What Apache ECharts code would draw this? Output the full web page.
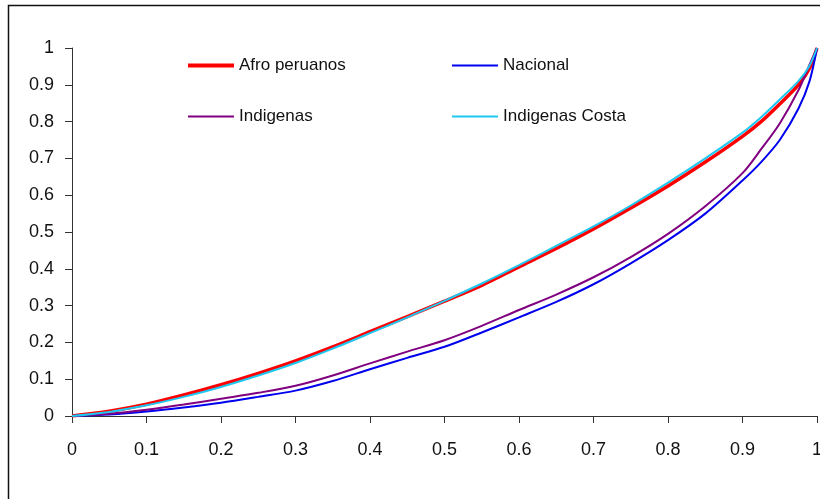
<!DOCTYPE html>
<html>
<head>
<meta charset="utf-8">
<script src="https://cdn.jsdelivr.net/npm/echarts@6/dist/echarts.min.js"></script>
<style>
html,body{margin:0;padding:0;background:#fff;}
#chart{width:820px;height:499px;}
</style>
</head>
<body>
<div id="chart"></div>
<script>
// Cumulative share of population (x)
const popShare = [0, 0.05, 0.1, 0.15, 0.2, 0.25, 0.3, 0.35, 0.4, 0.45, 0.5, 0.55, 0.6, 0.65, 0.7, 0.75, 0.8, 0.85, 0.9, 0.925, 0.95, 0.975, 0.99, 1];
// Cumulative share of income (y) per group
const afroPeruanos   = [0, 0.013, 0.032, 0.057, 0.085, 0.116, 0.150, 0.188, 0.229, 0.270, 0.312, 0.355, 0.405, 0.455, 0.508, 0.565, 0.625, 0.690, 0.760, 0.800, 0.848, 0.900, 0.945, 1];
const nacional       = [0, 0.004, 0.012, 0.023, 0.036, 0.052, 0.069, 0.095, 0.127, 0.158, 0.188, 0.227, 0.268, 0.310, 0.358, 0.415, 0.478, 0.550, 0.640, 0.690, 0.750, 0.835, 0.910, 1];
const indigenas      = [0, 0.006, 0.017, 0.031, 0.047, 0.063, 0.082, 0.110, 0.143, 0.175, 0.206, 0.245, 0.288, 0.330, 0.377, 0.432, 0.495, 0.570, 0.660, 0.725, 0.795, 0.885, 0.955, 1];
const indigenasCosta = [0, 0.011, 0.029, 0.052, 0.079, 0.110, 0.144, 0.183, 0.225, 0.268, 0.313, 0.360, 0.410, 0.462, 0.515, 0.572, 0.634, 0.700, 0.770, 0.812, 0.860, 0.910, 0.952, 1];
const seriesNames = ['Afro peruanos', 'Nacional', 'Indigenas', 'Indigenas Costa'];
const axisTicks = [0, 0.1, 0.2, 0.3, 0.4, 0.5, 0.6, 0.7, 0.8, 0.9, 1];

const FONT = "'Liberation Sans Narrow', 'Arial Narrow', 'Liberation Sans', Arial, sans-serif";
const pairs = arr => popShare.map((x, i) => [x, arr[i]]);

const chart = echarts.init(document.getElementById('chart'), null, {renderer: 'canvas'});

function legendAt(name, left, top, h) {
  return {
    data: [{name: name, icon: 'rect'}],
    left: left, top: top,
    itemWidth: 46, itemHeight: h, itemGap: 0,
    padding: 0,
    textStyle: {fontFamily: FONT, fontSize: 17, color: '#111'},
    selectedMode: false
  };
}
const tickFmt = v => { const t = axisTicks.find(a => Math.abs(a - v) < 1e-6); return t === undefined ? '' : String(t); };

chart.setOption({
  animation: false,
  backgroundColor: '#fff',
  graphic: [{
    type: 'rect', left: 6, top: 3, silent: true,
    shape: {width: 900, height: 600},
    style: {fill: 'none', stroke: '#111', lineWidth: 1.5}
  }],
  legend: [
    legendAt(seriesNames[0], 188, 57, 4),
    legendAt(seriesNames[1], 452, 57, 2),
    legendAt(seriesNames[2], 188, 108, 2),
    legendAt(seriesNames[3], 452, 108, 2)
  ],
  grid: {left: 72, right: 3, top: 48, bottom: 83, containLabel: false, outerBoundsMode: 'none'},
  xAxis: {
    type: 'value', min: 0, max: 1, interval: 0.1,
    axisLine: {lineStyle: {color: '#333', width: 1}},
    axisTick: {show: true, length: 7, lineStyle: {color: '#333'}},
    splitLine: {show: false},
    axisLabel: {margin: 25, fontFamily: FONT, fontSize: 18, color: '#111', formatter: tickFmt}
  },
  yAxis: {
    type: 'value', min: 0, max: 1, interval: 0.1,
    axisLine: {show: true, lineStyle: {color: '#333', width: 1}},
    axisTick: {show: true, length: 7, lineStyle: {color: '#333'}},
    splitLine: {show: false},
    axisLabel: {margin: 18, fontFamily: FONT, fontSize: 18, color: '#111', formatter: tickFmt}
  },
  series: [
    {name: seriesNames[0], type: 'line', data: pairs(afroPeruanos), showSymbol: false, smooth: 0.3, color: '#ff0000', lineStyle: {width: 3.5}},
    {name: seriesNames[1], type: 'line', data: pairs(nacional), showSymbol: false, smooth: 0.3, color: '#0000ee', lineStyle: {width: 2}},
    {name: seriesNames[2], type: 'line', data: pairs(indigenas), showSymbol: false, smooth: 0.3, color: '#800080', lineStyle: {width: 2}},
    {name: seriesNames[3], type: 'line', data: pairs(indigenasCosta), showSymbol: false, smooth: 0.3, color: '#1ec8f0', lineStyle: {width: 2}}
  ]
});
</script>
</body>
</html>
